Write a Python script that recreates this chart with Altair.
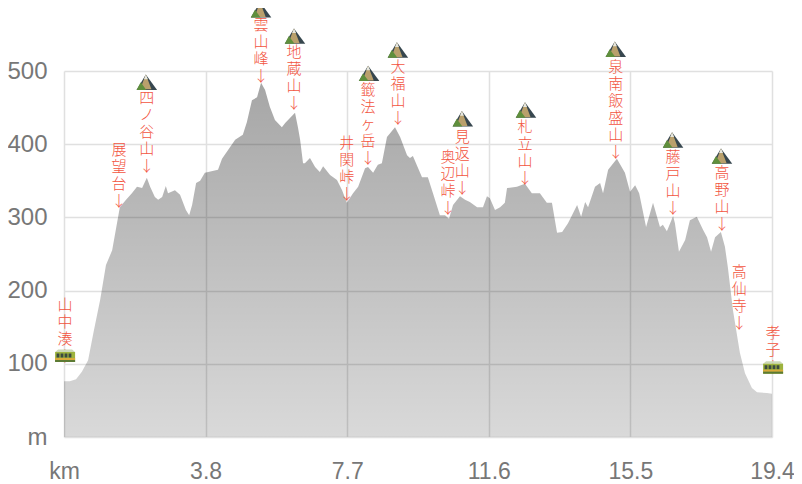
import altair as alt
import pandas as pd

km = [0,.16,.33,.49,.66,.82,.99,1.15,1.32,1.42,1.53,1.70,1.86,2.00,2.14,2.27,2.36,2.49,2.58,2.69,2.79,2.85,3.04,3.18,3.34,3.43,3.51,3.62,3.73,3.86,
      4.22,4.33,4.69,4.90,5.01,5.15,5.29,5.40,5.51,5.64,5.78,5.97,6.06,6.33,6.41,6.47,6.55,6.60,6.74,6.88,7.01,7.10,7.29,7.48,7.62,7.75,7.92,8.06,8.25,8.33,
      8.47,8.60,8.71,8.85,9.07,9.21,9.40,9.48,9.56,9.81,9.97,10.11,10.30,10.44,10.55,10.66,10.85,10.99,11.12,11.32,11.48,11.59,11.67,11.81,11.95,12.08,12.14,12.41,12.63,12.82,
      13.04,13.23,13.37,13.51,13.65,13.81,14.06,14.17,14.28,14.36,14.55,14.69,14.77,14.91,15.15,15.37,15.51,15.65,15.76,15.95,16.14,16.33,16.41,16.52,16.69,16.74,16.85,17.02,17.15,17.34,
      17.51,17.62,17.73,17.84,18.00,18.11,18.19,18.33,18.52,18.66,18.85,18.99,19.26,19.40]
elev = [76,76,79,89,105,146,187,235,255,283,314,324,333,342,340,354,342,328,324,328,343,333,337,331,310,303,317,347,350,361,
        365,380,406,413,430,460,464,484,474,451,433,423,429,443,423,406,374,374,381,369,362,370,358,351,337,320,333,342,367,369,
        361,372,374,410,423,410,385,381,384,355,355,333,303,303,298,317,329,324,321,314,314,329,326,310,314,320,340,342,346,333,
        333,320,320,279,280,292,317,301,321,314,342,347,333,365,380,361,335,344,333,287,320,287,290,281,302,292,253,269,296,301,
        283,273,253,273,280,260,232,173,115,87,67,61,60,59]

label_names = ["山\n中\n湊\n　\n↓","展\n望\n台\n↓","四\nノ\n谷\n山\n↓","雲\n山\n峰\n↓","地\n蔵\n山\n↓","井\n関\n峠\n↓",
               "籤\n法\nヶ\n岳\n↓","大\n福\n山\n↓","奥\n辺\n峠\n↓","見\n返\n山\n↓","札\n立\n山\n↓","泉\n南\n飯\n盛\n山\n↓",
               "藤\n戸\n山\n↓","高\n野\n山\n↓","高\n仙\n寺\n↓","孝\n子\n　\n↓"]
label_km = [.03,1.51,2.27,5.40,6.30,7.75,8.33,9.15,10.52,10.91,12.63,15.12,16.69,18.03,18.50,19.43]
label_top_m = [180,392,463,563,526,402,474,505,382,410,423,505,382,361,225,142]

peak_km = [2.27,5.40,6.33,8.36,9.15,10.93,12.66,15.12,16.69,18.03]
peak_m = [484,583,547,496,528,434,446,529,405,383]
train_km = [.03,19.43]
train_m = [110,94]

x_ticks = [0,3.88,7.76,11.64,15.52,19.4]
y_ticks = [0,100,200,300,400,500]

profile = pd.DataFrame({"km": km, "m": elev})
labels = pd.DataFrame({"km": label_km, "m": label_top_m, "name": label_names})
peaks = pd.DataFrame({"km": peak_km, "m": peak_m})
trains = pd.DataFrame({"km": train_km, "m": train_m})

AX_FONT = "Liberation Sans"
x_scale = alt.Scale(domain=[0, 19.4], nice=False, zero=False)
y_scale = alt.Scale(domain=[0, 500], nice=False)
X = alt.X("km:Q", scale=x_scale, axis=alt.Axis(
    values=x_ticks, title=None, domain=False, ticks=False, grid=True, gridColor="#e0e0e0", gridWidth=1.5,
    labelFont=AX_FONT, labelFontSize=23, labelColor="#777777", labelPadding=23, labelFlush=False, labelOverlap=False,
    labelExpr="datum.value == 0 ? 'km' : format(floor(datum.value * 10 + 0.001) / 10, '.1f')"))
Y = alt.Y("m:Q", scale=y_scale, axis=alt.Axis(
    values=y_ticks, title=None, domain=False, ticks=False, grid=True, gridColor="#e0e0e0", gridWidth=1.5,
    labelFont=AX_FONT, labelFontSize=24, labelColor="#777777", labelPadding=17,
    labelExpr="datum.value == 0 ? 'm' : datum.label"))

area = alt.Chart(profile).mark_area(
    color=alt.Gradient(gradient="linear", x1=1, x2=1, y1=0, y2=1, stops=[
        alt.GradientStop(color="rgba(0,0,0,0.35)", offset=0),
        alt.GradientStop(color="rgba(0,0,0,0.15)", offset=1),
    ])).encode(x=X, y=Y)

text = alt.Chart(labels).mark_text(
    font="Noto Sans CJK JP", fontSize=15, fontWeight=300, color="#f2553f", lineBreak="\n", lineHeight=17,
    align="center", baseline="middle", clip=False
).encode(x=alt.X("km:Q", scale=x_scale), y=alt.Y("m:Q", scale=y_scale), text="name:N")

def icon(df, shape, color, size):
    return alt.Chart(df).mark_point(shape=shape, filled=True, fill=color, opacity=1, strokeWidth=0, size=size, clip=False).encode(
        x=alt.X("km:Q", scale=x_scale), y=alt.Y("m:Q", scale=y_scale))

M = 420
mountain = [
    ("M-0.1,-0.8L1,0.7L-1,0.7Z", "#37474f"),
    ("M-0.1,-0.8L0.45,0.65L-0.65,0.65Z", "#b9a06c"),
    ("M-0.1,-0.8L0.1,-0.35L-0.28,-0.35Z", "#e8e8e0"),
    ("M-0.6,-0.05L-0.05,0.7L-1,0.7Z", "#5f8f3c"),
]
T = 400
train = [
    ("M-0.7,-0.7L0.7,-0.7L1,-0.45L-1,-0.45Z", "#cdd8b8"),
    ("M-1,-0.45L1,-0.45L1,0.55L-1,0.55Z", "#9db33e"),
    ("M-0.85,-0.3h0.28v0.4h-0.28zM-0.45,-0.3h0.28v0.4h-0.28zM-0.05,-0.3h0.28v0.4h-0.28zM0.35,-0.3h0.28v0.4h-0.28z", "#3b4a40"),
    ("M-1,0.15L1,0.15L1,0.35L-1,0.35Z", "#d9a93a"),
    ("M-1,0.35L1,0.35L1,0.55L-1,0.55Z", "#5c7a34"),
]

layers = [area, text]
layers += [icon(peaks, s, c, M) for s, c in mountain]
layers += [icon(trains, s, c, T) for s, c in train]

chart = alt.layer(*layers).resolve_scale(x="shared", y="shared").properties(
    width=708, height=366, autosize=alt.AutoSizeParams(type="none"),
    padding={"left": 56, "top": 63, "right": 22, "bottom": 46},
    background="white"
).configure_view(stroke=None)

chart.save("out.html", embed_options={"renderer": "svg", "actions": False})
